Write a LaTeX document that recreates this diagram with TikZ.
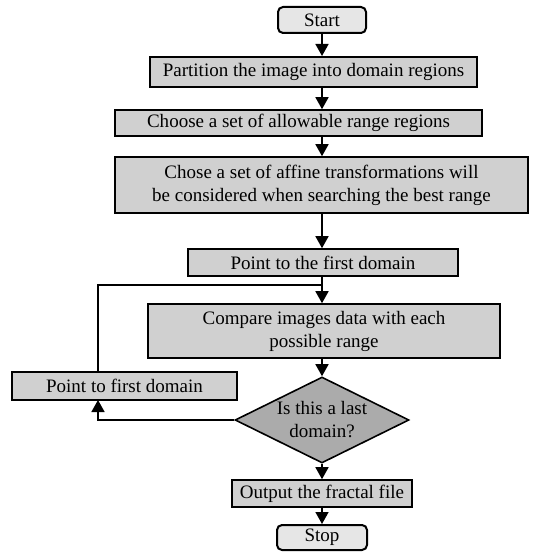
\documentclass[tikz,border=0pt]{standalone}
\usepackage{fontspec}
\setmainfont{Liberation Serif}
\usetikzlibrary{shapes.geometric,arrows.meta}
\definecolor{boxgray}{HTML}{D0D0D0}
\definecolor{termgray}{HTML}{E6E6E6}
\definecolor{diagray}{HTML}{ABABAB}
\begin{document}
\begin{tikzpicture}[x=1bp,y=-1bp,
  font=\fontsize{19bp}{23bp}\selectfont,
  box/.style={draw=black,line width=1.6bp,fill=boxgray,inner sep=0pt,align=center},
  term/.style={box,fill=termgray,rounded corners=5bp,line width=2bp},
  dia/.style={draw=black,line width=1.6bp,fill=diagray,diamond,inner sep=0pt},
  arr/.style={line width=1.6bp,-{Triangle[length=12bp,width=13bp]}},
  conn/.style={line width=1.6bp}]
\useasboundingbox (0,0) rectangle (557,553);
\node[term,minimum width=88bp,minimum height=26bp] (start) at (322,20) {Start};
\node[box,line width=2bp,minimum width=327bp,minimum height=30bp] (part) at (313.5,72) {Partition the image into domain regions};
\node[box,minimum width=367bp,minimum height=26bp] (choose) at (298.5,123) {Choose a set of allowable range regions};
\node[box,minimum width=413bp,minimum height=56bp] (chose) at (321.5,185) {Chose a set of affine transformations will\\be considered when searching the best range};
\node[box,minimum width=270bp,minimum height=27bp] (first) at (323,262.5) {Point to the first domain};
\node[box,minimum width=352bp,minimum height=54bp] (cmp) at (324,331) {Compare images data with each\\possible range};
\node[dia,minimum width=174bp,minimum height=86bp] (last) at (322,420) {};
\node[align=center,inner sep=0pt] (lasttxt) at (last.center) {Is this a last\\domain?};
\node[box,minimum width=225bp,minimum height=28bp] (pf) at (124.5,386) {Point to first domain};
\node[box,minimum width=180bp,minimum height=27bp] (out) at (322,493.5) {Output the fractal file};
\node[term,minimum width=90bp,minimum height=25bp] (stop) at (322,537.5) {Stop};
\coordinate (jn) at (322,285);
\coordinate (pfin) at (98,400);
\coordinate (pfout) at (98,372);
\draw[arr] (start.south) -- (start.south |- part.north);
\draw[arr] (start.south |- part.south) -- (start.south |- choose.north);
\draw[arr] (start.south |- choose.south) -- (start.south |- chose.north);
\draw[arr] (start.south |- chose.south) -- (start.south |- first.north);
\draw[arr] (start.south |- first.south) -- (start.south |- cmp.north);
\draw[arr] (start.south |- cmp.south) -- (last.north);
\draw[arr] (last.south) -- (out.north);
\draw[arr] (out.south) -- (stop.north);
\draw[arr] (last.west) -| (pfin);
\draw[conn] (pfout) |- (jn);
\end{tikzpicture}
\end{document}
